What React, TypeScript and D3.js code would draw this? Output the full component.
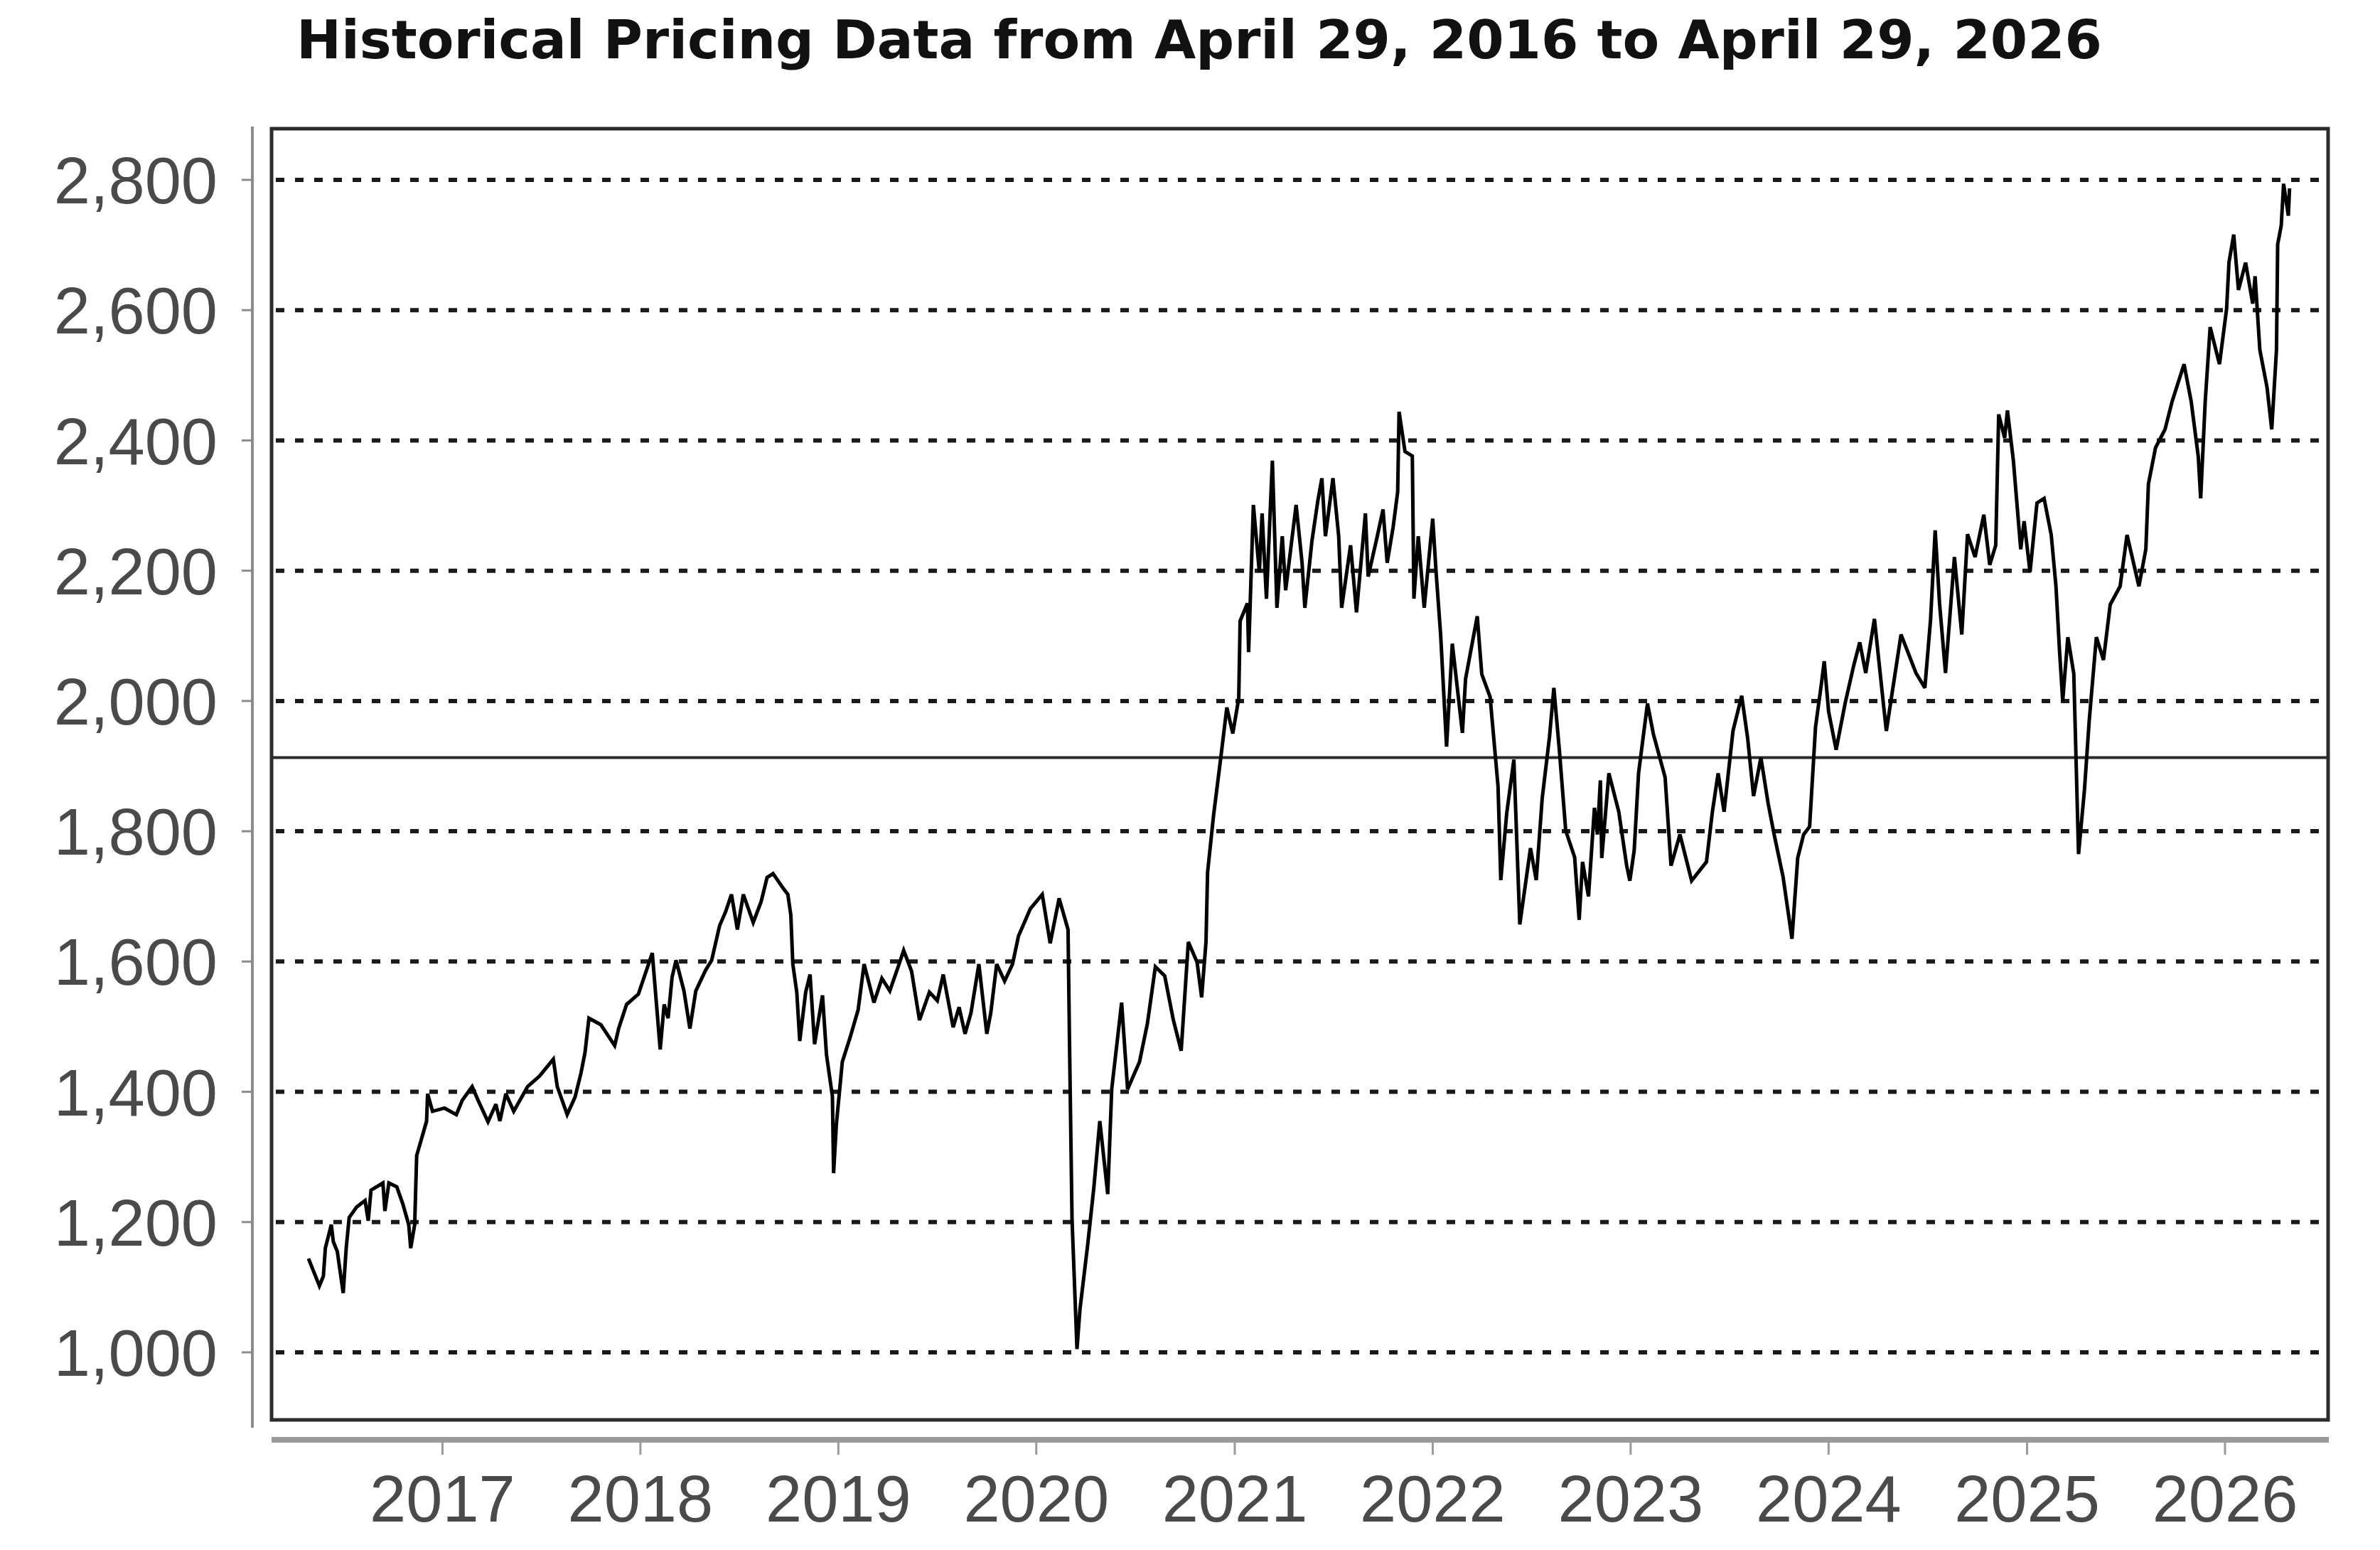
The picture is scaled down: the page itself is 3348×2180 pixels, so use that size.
import * as d3 from "d3";

const width = 3348;
const height = 2180;

const title = "Historical Pricing Data from April 29, 2016 to April 29, 2026";

const yearTicks = [2017, 2018, 2019, 2020, 2021, 2022, 2023, 2024, 2025, 2026];
const priceTicks = [1000, 1200, 1400, 1600, 1800, 2000, 2200, 2400, 2600, 2800];
const referenceLevel = 1913;

// [decimal year, price]
const prices2016: [number, number][] = [
  [2016.325, 1144], [2016.38, 1102], [2016.4, 1117], [2016.41, 1160], [2016.44, 1196],
  [2016.45, 1170], [2016.47, 1155], [2016.5, 1091], [2016.515, 1160], [2016.53, 1207],
  [2016.567, 1223], [2016.61, 1233], [2016.626, 1202], [2016.64, 1249], [2016.7, 1260],
  [2016.71, 1217], [2016.73, 1260], [2016.77, 1254], [2016.8, 1228], [2016.83, 1196],
  [2016.84, 1160], [2016.86, 1196], [2016.87, 1302], [2016.905, 1339], [2016.92, 1355],
  [2016.925, 1397], [2016.95, 1370],
];

const prices2017: [number, number][] = [
  [2017.01, 1375], [2017.07, 1365], [2017.1, 1387], [2017.15, 1408], [2017.18, 1387],
  [2017.23, 1354], [2017.27, 1381], [2017.29, 1355], [2017.32, 1397], [2017.36, 1370],
  [2017.43, 1408], [2017.49, 1424], [2017.56, 1450], [2017.58, 1408], [2017.63, 1365],
  [2017.67, 1392], [2017.7, 1429], [2017.72, 1460], [2017.74, 1513], [2017.8, 1503],
  [2017.87, 1471], [2017.89, 1497], [2017.93, 1534], [2017.99, 1550],
];

const prices2018: [number, number][] = [
  [2018.06, 1613], [2018.08, 1539], [2018.1, 1465], [2018.12, 1534], [2018.14, 1513],
  [2018.16, 1576], [2018.18, 1602], [2018.22, 1555], [2018.25, 1497], [2018.28, 1555],
  [2018.33, 1587], [2018.36, 1602], [2018.4, 1655], [2018.43, 1676], [2018.46, 1703],
  [2018.49, 1649], [2018.52, 1703], [2018.57, 1660], [2018.61, 1692], [2018.64, 1729],
  [2018.67, 1735], [2018.72, 1713], [2018.745, 1703], [2018.76, 1671], [2018.77, 1596],
  [2018.79, 1553], [2018.805, 1478], [2018.835, 1553], [2018.857, 1580], [2018.88, 1473],
  [2018.92, 1548], [2018.94, 1457], [2018.97, 1393], [2018.976, 1275], [2018.99, 1350],
];

const prices2019: [number, number][] = [
  [2019.02, 1446], [2019.06, 1484], [2019.1, 1526], [2019.13, 1596], [2019.18, 1537],
  [2019.22, 1574], [2019.26, 1555], [2019.3, 1590], [2019.33, 1617], [2019.37, 1585],
  [2019.41, 1510], [2019.46, 1553], [2019.5, 1540], [2019.53, 1580], [2019.58, 1499],
  [2019.61, 1530], [2019.64, 1489], [2019.67, 1521], [2019.71, 1596], [2019.75, 1489],
  [2019.77, 1521], [2019.8, 1596], [2019.84, 1570], [2019.88, 1596], [2019.91, 1639],
  [2019.97, 1681],
];

const prices2020: [number, number][] = [
  [2020.03, 1703], [2020.07, 1628], [2020.115, 1697], [2020.16, 1649], [2020.167, 1484],
  [2020.18, 1205], [2020.205, 1005], [2020.22, 1066], [2020.26, 1168], [2020.29, 1253],
  [2020.32, 1355], [2020.36, 1243], [2020.38, 1404], [2020.43, 1537], [2020.46, 1404],
  [2020.52, 1446], [2020.56, 1505], [2020.6, 1592], [2020.647, 1578], [2020.69, 1511],
  [2020.73, 1463], [2020.766, 1630], [2020.81, 1599], [2020.833, 1545], [2020.855, 1630],
  [2020.863, 1737], [2020.893, 1824], [2020.93, 1914], [2020.96, 1990], [2020.99, 1950],
];

const prices2021: [number, number][] = [
  [2021.02, 2004], [2021.027, 2123], [2021.064, 2150], [2021.07, 2075], [2021.094, 2301],
  [2021.124, 2198], [2021.138, 2288], [2021.16, 2157], [2021.19, 2369], [2021.213, 2143],
  [2021.24, 2253], [2021.257, 2170], [2021.31, 2301], [2021.34, 2212], [2021.354, 2143],
  [2021.39, 2246], [2021.42, 2308], [2021.44, 2342], [2021.458, 2253], [2021.496, 2342],
  [2021.525, 2253], [2021.54, 2143], [2021.585, 2239], [2021.615, 2136], [2021.66, 2288],
  [2021.674, 2191], [2021.72, 2253], [2021.749, 2294], [2021.77, 2212], [2021.8, 2267],
  [2021.823, 2321], [2021.83, 2444], [2021.86, 2383], [2021.897, 2376], [2021.905, 2157],
  [2021.927, 2253], [2021.957, 2143],
];

const prices2022: [number, number][] = [
  [2022.0, 2280], [2022.017, 2198], [2022.04, 2102], [2022.07, 1930], [2022.099, 2088],
  [2022.15, 1951], [2022.166, 2034], [2022.225, 2130], [2022.248, 2041], [2022.29, 2006],
  [2022.33, 1869], [2022.344, 1725], [2022.374, 1828], [2022.41, 1910], [2022.44, 1657],
  [2022.494, 1774], [2022.523, 1725], [2022.553, 1850], [2022.59, 1945], [2022.612, 2020],
  [2022.64, 1924], [2022.672, 1801], [2022.717, 1760], [2022.74, 1664], [2022.757, 1753],
  [2022.787, 1700], [2022.817, 1836], [2022.832, 1795], [2022.847, 1878], [2022.854, 1759],
  [2022.89, 1889], [2022.94, 1830], [2022.98, 1747],
];

const prices2023: [number, number][] = [
  [2022.996, 1724], [2023.018, 1771], [2023.04, 1889], [2023.085, 1996], [2023.115, 1949],
  [2023.174, 1883], [2023.204, 1747], [2023.249, 1795], [2023.308, 1724], [2023.383, 1753],
  [2023.413, 1830], [2023.442, 1889], [2023.472, 1830], [2023.517, 1954], [2023.561, 2008],
  [2023.591, 1943], [2023.621, 1854], [2023.658, 1913], [2023.695, 1842], [2023.725, 1795],
  [2023.77, 1730], [2023.815, 1635], [2023.844, 1759], [2023.874, 1795], [2023.904, 1807],
  [2023.934, 1960], [2023.963, 2025], [2023.978, 2061],
];

const prices2024: [number, number][] = [
  [2024.0, 1984], [2024.038, 1925], [2024.083, 1996], [2024.127, 2055], [2024.157, 2090],
  [2024.187, 2043], [2024.231, 2126], [2024.276, 1996], [2024.291, 1954], [2024.365, 2102],
  [2024.44, 2043], [2024.485, 2020], [2024.514, 2126], [2024.537, 2262], [2024.559, 2150],
  [2024.589, 2043], [2024.634, 2221], [2024.671, 2102], [2024.7, 2256], [2024.738, 2221],
  [2024.782, 2286], [2024.812, 2209], [2024.842, 2239], [2024.857, 2440], [2024.887, 2404],
  [2024.901, 2446], [2024.931, 2369], [2024.968, 2233], [2024.985, 2276],
];

const prices2025: [number, number][] = [
  [2025.015, 2198], [2025.05, 2304], [2025.086, 2311], [2025.122, 2255], [2025.146, 2176],
  [2025.164, 2077], [2025.18, 2000], [2025.206, 2098], [2025.236, 2042], [2025.26, 1765],
  [2025.29, 1864], [2025.314, 1970], [2025.35, 2098], [2025.386, 2063], [2025.42, 2148],
  [2025.47, 2176], [2025.505, 2255], [2025.565, 2176], [2025.6, 2233], [2025.613, 2333],
  [2025.649, 2389], [2025.697, 2417], [2025.733, 2460], [2025.793, 2517], [2025.829, 2460],
  [2025.865, 2375], [2025.877, 2311], [2025.9, 2460], [2025.925, 2574], [2025.972, 2517],
];

const prices2026: [number, number][] = [
  [2026.008, 2602], [2026.02, 2673], [2026.044, 2716], [2026.068, 2631], [2026.104, 2673],
  [2026.14, 2610], [2026.152, 2652], [2026.176, 2539], [2026.212, 2482], [2026.236, 2417],
  [2026.26, 2539], [2026.266, 2701], [2026.284, 2730], [2026.296, 2794], [2026.32, 2745],
  [2026.326, 2787],
];

const allPrices = [
  ...prices2016, ...prices2017, ...prices2018, ...prices2019, ...prices2020, ...prices2021,
  ...prices2022, ...prices2023, ...prices2024, ...prices2025, ...prices2026,
];

// decimal year -> Date
const fromDecimalYear = (y: number) => {
  const yr = Math.floor(y);
  const start = Date.UTC(yr, 0, 1);
  const end = Date.UTC(yr + 1, 0, 1);
  return new Date(start + (y - yr) * (end - start));
};

const plot = { left: 382, right: 3275, top: 181, bottom: 1997 };

const App = () => {
  const xScale = d3
    .scaleUtc()
    .domain([new Date(Date.UTC(2016, 3, 29)), new Date(Date.UTC(2026, 3, 29))])
    .range([434, 3220]);
  const yScale = d3.scaleLinear().domain([1000, 2800]).range([1902, 253]);

  const line = d3
    .line<[number, number]>()
    .x(d => xScale(fromDecimalYear(d[0])))
    .y(d => yScale(d[1]));

  const fmt = d3.format(",");
  const labelFont = "'Liberation Sans', Arial, sans-serif";

  return (
    <svg
      width={width}
      height={height}
      style={{ position: "absolute", left: 0, top: 0, background: "#fff" }}
    >
      <rect x={0} y={0} width={width} height={height} fill="#fff" />

      <text
        x={417}
        y={82}
        fontFamily="'DejaVu Sans', sans-serif"
        fontWeight="bold"
        fontSize={74}
        fill="#111"
        textLength={2540}
        lengthAdjust="spacingAndGlyphs"
      >
        {title}
      </text>

      {/* grid */}
      {priceTicks.map(v => (
        <line
          key={v}
          x1={plot.left + 6}
          x2={plot.right}
          y1={yScale(v)}
          y2={yScale(v)}
          stroke="#1a1a1a"
          strokeWidth={6}
          strokeDasharray="12 15"
        />
      ))}

      <line
        x1={plot.left}
        x2={plot.right}
        y1={yScale(referenceLevel)}
        y2={yScale(referenceLevel)}
        stroke="#2a2a2a"
        strokeWidth={4}
      />

      <path
        d={line(allPrices) ?? ""}
        fill="none"
        stroke="#000"
        strokeWidth={5}
        strokeLinejoin="miter"
        strokeMiterlimit={3}
      />

      <rect
        x={plot.left}
        y={plot.top}
        width={plot.right - plot.left}
        height={plot.bottom - plot.top}
        fill="none"
        stroke="#2b2b2b"
        strokeWidth={5}
      />

      {/* y axis */}
      <line x1={355} x2={355} y1={178} y2={2008} stroke="#8c8c8c" strokeWidth={4} />
      {priceTicks.map(v => (
        <g key={v}>
          <line x1={340} x2={355} y1={yScale(v)} y2={yScale(v)} stroke="#8c8c8c" strokeWidth={3} />
          <text
            x={306}
            y={yScale(v)}
            dy="0.36em"
            textAnchor="end"
            fontFamily={labelFont}
            fontSize={92}
            fill="#4a4a4a"
          >
            {fmt(v)}
          </text>
        </g>
      ))}

      {/* x axis */}
      <line x1={plot.left} x2={3276} y1={2025} y2={2025} stroke="#9a9a9a" strokeWidth={8} />
      {yearTicks.map(yr => {
        const x = xScale(new Date(Date.UTC(yr, 0, 1)));
        return (
          <g key={yr}>
            <line x1={x} x2={x} y1={2025} y2={2046} stroke="#9a9a9a" strokeWidth={3} />
            <text
              x={x}
              y={2140}
              textAnchor="middle"
              fontFamily={labelFont}
              fontSize={92}
              fill="#4a4a4a"
            >
              {yr}
            </text>
          </g>
        );
      })}
    </svg>
  );
};

export default App;
